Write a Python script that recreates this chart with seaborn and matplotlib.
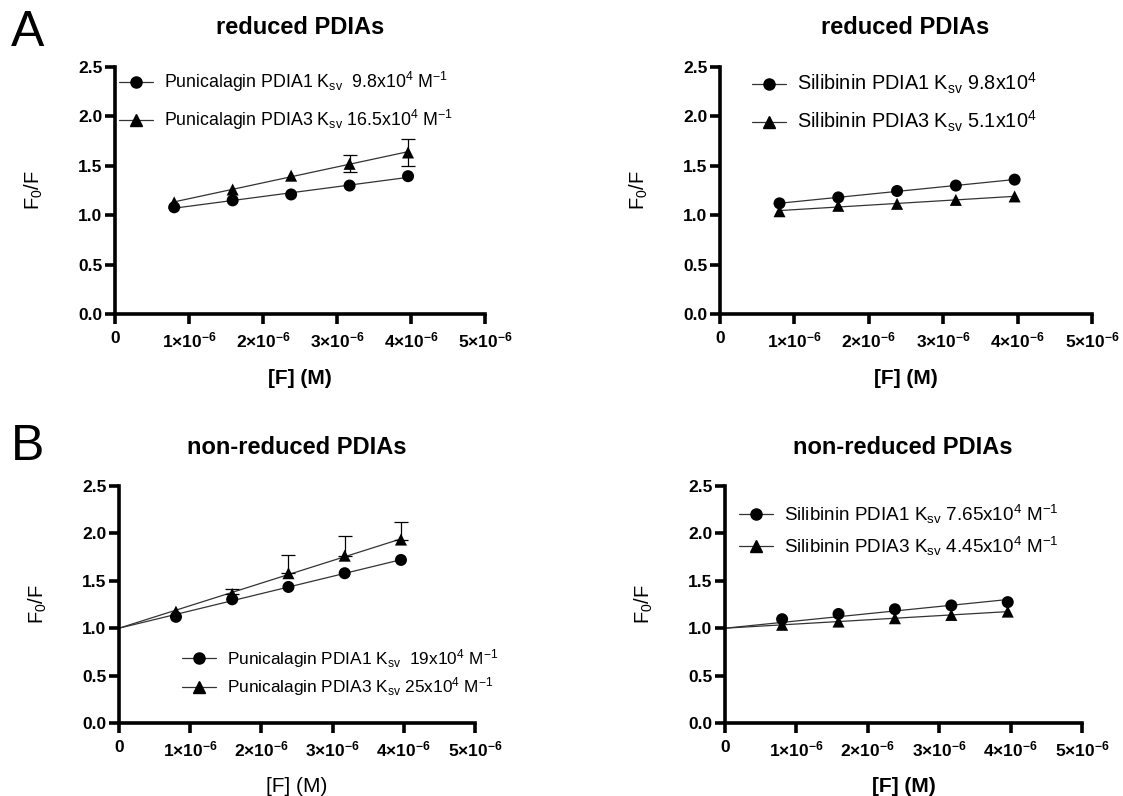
import numpy as np
import matplotlib
matplotlib.use("Agg")
import matplotlib.pyplot as plt
import seaborn as sns
import pandas as pd
from matplotlib.lines import Line2D

sns.set_style("white")
plt.rcParams['font.family'] = ['Liberation Sans', 'DejaVu Sans']
plt.rcParams['mathtext.fontset'] = 'custom'
plt.rcParams['mathtext.rm'] = 'Liberation Sans'
plt.rcParams['mathtext.it'] = 'Liberation Sans:italic'
plt.rcParams['mathtext.bf'] = 'Liberation Sans:bold'
plt.rcParams['text.color'] = 'black'
plt.rcParams['axes.labelcolor'] = 'black'
plt.rcParams['xtick.color'] = 'black'
plt.rcParams['ytick.color'] = 'black'

# ---------------- data ----------------
conc = [0.80e-6, 1.59e-6, 2.38e-6, 3.17e-6, 3.96e-6]

a_pun_pdia1 = [1.08, 1.15, 1.21, 1.30, 1.395]
a_pun_pdia3 = [1.13, 1.26, 1.40, 1.52, 1.635]
a_pun_pdia3_err = [0.0, 0.0, 0.0, 0.085, 0.14]

a_sil_pdia1 = [1.12, 1.18, 1.245, 1.30, 1.36]
a_sil_pdia3 = [1.04, 1.095, 1.115, 1.155, 1.19]

b_pun_pdia1 = [1.12, 1.305, 1.435, 1.58, 1.72]
b_pun_pdia3 = [1.175, 1.36, 1.58, 1.765, 1.935]
b_pun_pdia3_err = [0.0, 0.055, 0.19, 0.21, 0.19]

b_sil_pdia1 = [1.095, 1.15, 1.20, 1.24, 1.275]
b_sil_pdia3 = [1.036, 1.07, 1.105, 1.14, 1.175]

x_ticks = [0, 1e-6, 2e-6, 3e-6, 4e-6, 5e-6]
x_ticklabels = ["0"] + [r"%d×10$^{\mathbf{-6}}$" % i for i in range(1, 6)]
y_ticks = [0.0, 0.5, 1.0, 1.5, 2.0, 2.5]
y_ticklabels = ["0.0", "0.5", "1.0", "1.5", "2.0", "2.5"]

panels = [
    dict(rect_px=(115, 67, 485, 314), title="reduced PDIAs", title_xy=(300, 27),
         s1=a_pun_pdia1, s3=a_pun_pdia3, e3=a_pun_pdia3_err, err_mode="both", fit="free",
         labels=[r"Punicalagin PDIA1 K$_{\mathrm{sv}}$  9.8x10$^{\mathrm{4}}$ M$^{\mathrm{-1}}$",
                 r"Punicalagin PDIA3 K$_{\mathrm{sv}}$ 16.5x10$^{\mathrm{4}}$ M$^{\mathrm{-1}}$"],
         leg_xy=(119, 70), leg_spacing=0.8, leg_fs=12.8, xlabel_bold=True),
    dict(rect_px=(720, 67, 1092, 314), title="reduced PDIAs", title_xy=(905, 27),
         s1=a_sil_pdia1, s3=a_sil_pdia3, e3=None, err_mode=None, fit="free",
         labels=[r"Silibinin PDIA1 K$_{\mathrm{sv}}$ 9.8x10$^{\mathrm{4}}$",
                 r"Silibinin PDIA3 K$_{\mathrm{sv}}$ 5.1x10$^{\mathrm{4}}$"],
         leg_xy=(752, 71), leg_spacing=0.65, leg_fs=14.3, xlabel_bold=True),
    dict(rect_px=(119, 486, 475, 723), title="non-reduced PDIAs", title_xy=(297, 447),
         s1=b_pun_pdia1, s3=b_pun_pdia3, e3=b_pun_pdia3_err, err_mode="up", fit="origin",
         labels=[r"Punicalagin PDIA1 K$_{\mathrm{sv}}$  19x10$^{\mathrm{4}}$ M$^{\mathrm{-1}}$",
                 r"Punicalagin PDIA3 K$_{\mathrm{sv}}$ 25x10$^{\mathrm{4}}$ M$^{\mathrm{-1}}$"],
         leg_xy=(182, 647), leg_spacing=0.32, leg_fs=12.4, xlabel_bold=False),
    dict(rect_px=(725, 486, 1082, 723), title="non-reduced PDIAs", title_xy=(903, 447),
         s1=b_sil_pdia1, s3=b_sil_pdia3, e3=None, err_mode=None, fit="origin",
         labels=[r"Silibinin PDIA1 K$_{\mathrm{sv}}$ 7.65x10$^{\mathrm{4}}$ M$^{\mathrm{-1}}$",
                 r"Silibinin PDIA3 K$_{\mathrm{sv}}$ 4.45x10$^{\mathrm{4}}$ M$^{\mathrm{-1}}$"],
         leg_xy=(739, 503), leg_spacing=0.45, leg_fs=13.6, xlabel_bold=True),
]

W, H = 1123, 796
fig = plt.figure(figsize=(W / 100, H / 100), dpi=100)
LW_AX = 2.6
LINE_C = "#333333"

def fx(px):
    return px / W

def fy(py):
    return 1 - py / H

for p in panels:
    l, t, r, b = p["rect_px"]
    ax = fig.add_axes([fx(l), fy(b), fx(r) - fx(l), fy(t) - fy(b)])
    x = np.array(conc)
    for ys in (p["s1"], p["s3"]):
        ys = np.array(ys)
        if p["fit"] == "free":
            k, c0 = np.polyfit(x, ys, 1)
            xl = np.array([x[0], x[-1]])
        else:
            k = np.sum(x * (ys - 1)) / np.sum(x ** 2)
            c0 = 1.0
            xl = np.array([0.0, x[-1]])
        ax.plot(xl, c0 + k * xl, color=LINE_C, lw=0.9, zorder=2)
    if p["e3"] is not None:
        e = np.array(p["e3"])
        mask = e > 0
        if p["err_mode"] == "both":
            yerr = [e[mask], e[mask]]
        else:
            yerr = [np.zeros(mask.sum()), e[mask]]
        ax.errorbar(x[mask], np.array(p["s3"])[mask], yerr=yerr, fmt="none",
                    ecolor="black", elinewidth=0.9, capsize=5, capthick=0.9, zorder=3)
    df = pd.DataFrame({"x": np.concatenate([x, x]),
                       "y": np.concatenate([p["s1"], p["s3"]]),
                       "series": ["PDIA1"] * 5 + ["PDIA3"] * 5})
    sns.scatterplot(data=df, x="x", y="y", style="series",
                    markers={"PDIA1": "o", "PDIA3": "^"}, color="black",
                    s=75, edgecolor="black", linewidth=0, legend=False, ax=ax, zorder=4)

    ax.set_xlim(0, 5e-6)
    ax.set_ylim(0, 2.5)
    ax.set_xticks(x_ticks)
    ax.set_xticklabels(x_ticklabels, fontsize=12.5, fontweight="bold")
    ax.set_yticks(y_ticks)
    ax.set_yticklabels(y_ticklabels, fontsize=12.5, fontweight="bold")
    ax.set_xlabel("")
    ax.set_ylabel("")
    for s in ["top", "right"]:
        ax.spines[s].set_visible(False)
    for s in ["left", "bottom"]:
        ax.spines[s].set_linewidth(LW_AX)
        ax.spines[s].set_color("black")
        ax.spines[s].set_capstyle("projecting")
    ax.tick_params(axis="both", direction="out", length=7, width=LW_AX, color="black",
                   bottom=True, left=True)
    ax.tick_params(axis="x", pad=5)
    ax.tick_params(axis="y", pad=2)
    ax.patch.set_alpha(0)

    handles = [Line2D([], [], color=LINE_C, lw=0.9, marker="o", markersize=8,
                      markerfacecolor="black", markeredgecolor="black"),
               Line2D([], [], color=LINE_C, lw=0.9, marker="^", markersize=8,
                      markerfacecolor="black", markeredgecolor="black")]
    fs = p["leg_fs"]
    fig.legend(handles, p["labels"], loc="upper left",
               bbox_to_anchor=(fx(p["leg_xy"][0]), fy(p["leg_xy"][1])),
               bbox_transform=fig.transFigure, frameon=False, fontsize=fs,
               handlelength=1.9 * 13 / fs, handletextpad=0.6 * 13 / fs,
               borderpad=0, borderaxespad=0, labelspacing=p["leg_spacing"])

    fig.text(fx(p["title_xy"][0]), fy(p["title_xy"][1]), p["title"], ha="center",
             va="center", fontsize=17, fontweight="bold")
    cx = (l + r) / 2
    cy = (t + b) / 2
    fig.text(fx(l - 81), fy(cy), r"F$_{\mathrm{0}}$/F", rotation=90, ha="center",
             va="center", fontsize=14.5)
    fig.text(fx(cx), fy(b + 64), "[F] (M)", ha="center", va="center", fontsize=15,
             fontweight="bold" if p["xlabel_bold"] else "normal")

fig.text(fx(28), fy(33), "A", ha="center", va="center", fontsize=36)
fig.text(fx(28), fy(447), "B", ha="center", va="center", fontsize=36)

fig.savefig("out.png", dpi=100)
